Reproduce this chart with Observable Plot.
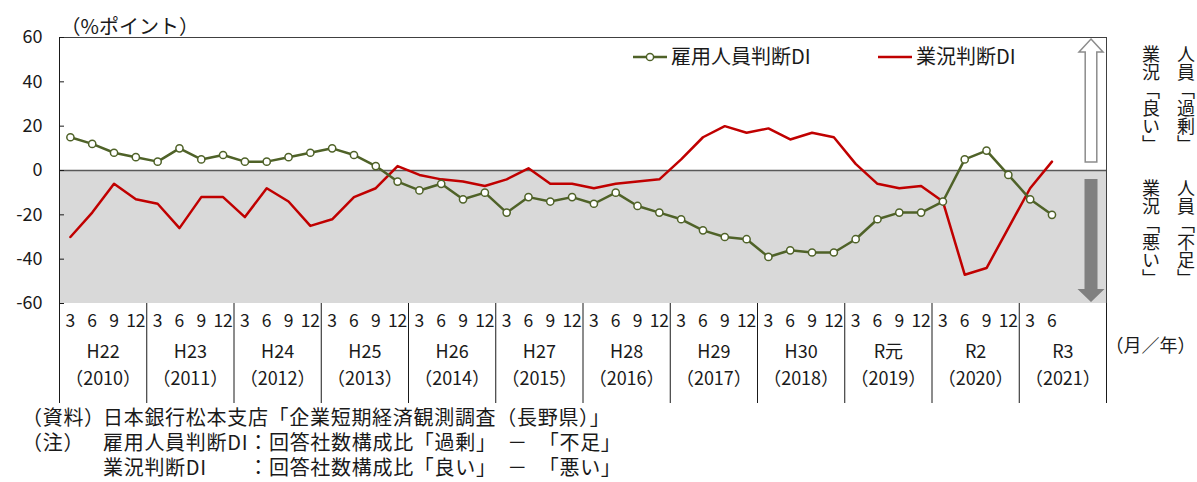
<!DOCTYPE html>
<html><head><meta charset="utf-8">
<script src="https://cdn.jsdelivr.net/npm/d3@7"></script>
<script src="https://cdn.jsdelivr.net/npm/@observablehq/plot@0.6"></script>
<style>
body{margin:0;background:#fff;}
#chart{width:1197px;height:482px;}
</style></head><body><div id="chart"></div>
<script>
// ---- data ----
const eraLabels = ["H22","H23","H24","H25","H26","H27","H28","H29","H30","R元","R2","R3"];
const westernLabels = ["（2010）","（2011）","（2012）","（2013）","（2014）","（2015）","（2016）","（2017）","（2018）","（2019）","（2020）","（2021）"];
const monthLabels = ["3","6","9","12"];
const employmentDI = [15,12,8,6, 4,10,5,7, 4,4,6,8, 10,7,2,-5, -9,-6,-13,-10, -19,-12,-14,-12, -15,-10,-16,-19, -22,-27,-30,-31, -39,-36,-37,-37, -31,-22,-19,-19, -14,5,9,-2, -13,-20];
const businessDI = [-30,-19,-6,-13, -15,-26,-12,-12, -21,-8,-14,-25, -22,-12,-8,2, -2,-4,-5,-7, -4,1,-6,-6, -8,-6,-5,-4, 5,15,20,17, 19,14,17,15, 3,-6,-8,-7, -14,-47,-44,-26, -8,4];
const seriesNames = ["雇用人員判断DI","業況判断DI"];
const yTicks = [-60,-40,-20,0,20,40,60];
const yUnit = "（%ポイント）";
const xUnit = "（月／年）";
const sideUpper = ["業況「良い」","人員「過剰」"];
const sideLower = ["業況「悪い」","人員「不足」"];
const sourceNote = ["（資料）","日本銀行松本支店「企業短期経済観測調査（長野県）」"];
const noteHead = "（注）";
const noteDefs = [["雇用人員判断DI","：回答社数構成比「過剰」　－　「不足」"],["業況判断DI","：回答社数構成比「良い」　－　「悪い」"]];

// ---- build ----
const F = "'Noto Sans CJK JP','Noto Sans',sans-serif";
const GREEN = "#4f6228", RED = "#c00000", INK = "#1a1a1a";
const nSlots = eraLabels.length * 4;
const rows = employmentDI.map((v, i) => ({slot: i + 0.5, month: monthLabels[i % 4], emp: v, bus: businessDI[i]}));
const years = eraLabels.map((e, k) => ({center: k * 4 + 2, era: e, west: westernLabels[k]}));
const bounds = d3.range(0, nSlots + 1, 4);
const shade = [{x1: 0, x2: nSlots, y1: yTicks[0], y2: 0}];

const chart = Plot.plot({
  width: 1197, height: 482,
  marginLeft: 59, marginRight: 91, marginTop: 37, marginBottom: 179,
  style: {fontFamily: F, fontSize: "18px", background: "#fff", color: INK, overflow: "visible"},
  x: {type: "linear", domain: [0, nSlots], axis: null},
  y: {domain: [yTicks[0], yTicks[yTicks.length - 1]], axis: null},
  marks: [
    Plot.rect(shade, {x1: "x1", x2: "x2", y1: "y1", y2: "y2", fill: "#d9d9d9"}),
    Plot.ruleY([0], {stroke: "#595959", strokeWidth: 1.6}),
    Plot.frame({anchor: "top", stroke: "#404040"}),
    Plot.frame({anchor: "left", stroke: INK}),
    Plot.frame({anchor: "right", stroke: "#404040"}),
    Plot.axisY(yTicks, {anchor: "left", tickSize: 5, dx: 5, tickPadding: 17, tickFormat: d => String(d), fontSize: 18, label: null, stroke: INK}),
    Plot.axisX(bounds, {anchor: "bottom", tickSize: 100, tickFormat: () => "", label: null, stroke: INK}),
    Plot.line(rows, {x: "slot", y: "bus", stroke: RED, strokeWidth: 2.5}),
    Plot.line(rows, {x: "slot", y: "emp", stroke: GREEN, strokeWidth: 2.5}),
    Plot.dot(rows, {x: "slot", y: "emp", r: 3.6, fill: "white", stroke: GREEN, strokeWidth: 1.5}),
    Plot.text(rows, {x: "slot", text: "month", frameAnchor: "bottom", dy: 23, fontSize: 17.5, fill: INK}),
    Plot.text(years, {x: "center", text: "era", frameAnchor: "bottom", dy: 54, fontSize: 18, fill: INK}),
    Plot.text(years, {x: "center", text: "west", frameAnchor: "bottom", dy: 81, fontSize: 18, fill: INK}),
    Plot.text([xUnit], {text: d => d, frameAnchor: "bottom-right", textAnchor: "start", dx: -1, dy: 48, fontSize: 18, fill: INK}),
    Plot.text([yUnit], {text: d => d, frameAnchor: "top-left", textAnchor: "start", dx: 1, dy: -18, fontSize: 20, fill: INK})
  ]
});
document.getElementById("chart").appendChild(chart);

// ---- annotations (legend, arrows, side texts, notes) ----
const svg = d3.select(chart);
const xs = chart.scale("x"), ys = chart.scale("y");
const xR = xs.apply(nSlots);
const yTop = ys.apply(yTicks[yTicks.length - 1]), yBot = ys.apply(yTicks[0]), y0 = ys.apply(0);
const g = svg.append("g").attr("font-family", F).attr("fill", INK).attr("text-anchor", "start");

// legend
const ly = yTop + 20;
g.append("line").attr("x1", 633).attr("x2", 667).attr("y1", ly).attr("y2", ly).attr("stroke", GREEN).attr("stroke-width", 2.5);
g.append("circle").attr("cx", 650).attr("cy", ly).attr("r", 3.6).attr("fill", "white").attr("stroke", GREEN).attr("stroke-width", 1.5);
g.append("text").attr("x", 671).attr("y", ly).attr("dy", "0.36em").attr("font-size", 20).text(seriesNames[0]);
g.append("line").attr("x1", 878).attr("x2", 912).attr("y1", ly).attr("y2", ly).attr("stroke", RED).attr("stroke-width", 2.5);
g.append("text").attr("x", 916).attr("y", ly).attr("dy", "0.36em").attr("font-size", 20).text(seriesNames[1]);

// arrows
const cx = xR - 15;
{
  const tip = yTop + 2, base = yTop + 15, bottom = y0 - 8, hw = 12, sw = 5.8;
  g.append("path").attr("d", `M${cx},${tip} L${cx + hw},${base} L${cx + sw},${base} L${cx + sw},${bottom} L${cx - sw},${bottom} L${cx - sw},${base} L${cx - hw},${base} Z`)
    .attr("fill", "white").attr("stroke", "#8c8c8c").attr("stroke-width", 1.5);
}
{
  const top = y0 + 9, base = yBot - 14, tip = yBot - 1, hw = 13.5, sw = 6.5;
  g.append("path").attr("d", `M${cx - sw},${top} L${cx + sw},${top} L${cx + sw},${base} L${cx + hw},${base} L${cx},${tip} L${cx - hw},${base} L${cx - sw},${base} Z`)
    .attr("fill", "#808080");
}

// side vertical texts
const colX = [1151, 1186];
[[sideUpper, yTop + 8], [sideLower, y0 + 9]].forEach(([texts, top]) => {
  texts.forEach((t, i) => {
    g.append("text").attr("x", colX[i]).attr("y", top).attr("font-size", 18)
      .style("writing-mode", "vertical-rl").attr("text-anchor", "start").text(t);
  });
});

// notes
const nx = 22, nx2 = 103;
const noteStyle = sel => sel.attr("dy", "0.36em").attr("font-size", 20).attr("letter-spacing", 0.7);
const l1 = g.append("text").attr("y", 418).call(noteStyle);
l1.append("tspan").attr("x", nx).text(sourceNote[0]);
l1.append("tspan").attr("x", nx2).text(sourceNote[1]);
const l2 = g.append("text").attr("y", 443).call(noteStyle);
l2.append("tspan").attr("x", nx).text(noteHead);
const lab2 = l2.append("tspan").attr("x", nx2).text(noteDefs[0][0]);
const colonX = nx2 + lab2.node().getComputedTextLength();
l2.append("tspan").attr("x", colonX).text(noteDefs[0][1]);
const l3 = g.append("text").attr("y", 468).call(noteStyle);
l3.append("tspan").attr("x", nx2).text(noteDefs[1][0]);
l3.append("tspan").attr("x", colonX).text(noteDefs[1][1]);
</script></body></html>
